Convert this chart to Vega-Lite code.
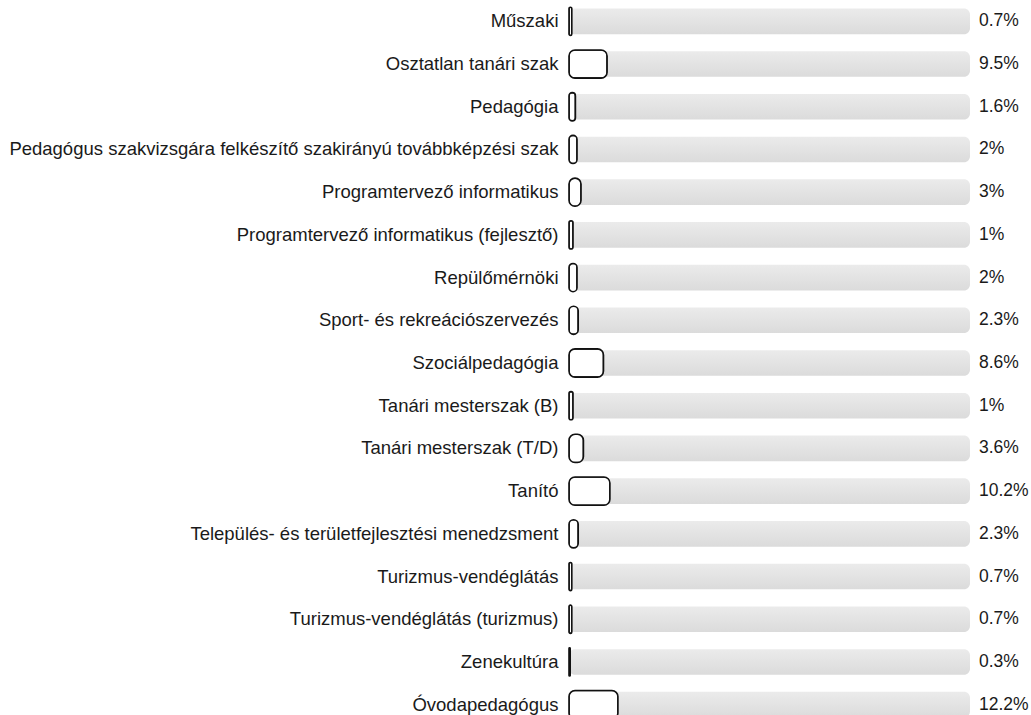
{
  "$schema": "https://vega.github.io/schema/vega-lite/v6.json",
  "width": 401,
  "height": 715,
  "autosize": {"type": "none"},
  "padding": {"left": 569, "top": 0, "right": 61, "bottom": 0},
  "background": "white",
  "config": {"view": {"stroke": null}, "font": "Liberation Sans"},
  "data": {
    "values": [
      {"szak": "Műszaki", "arany": 0.007},
      {"szak": "Osztatlan tanári szak", "arany": 0.095},
      {"szak": "Pedagógia", "arany": 0.016},
      {"szak": "Pedagógus szakvizsgára felkészítő szakirányú továbbképzési szak", "arany": 0.02},
      {"szak": "Programtervező informatikus", "arany": 0.03},
      {"szak": "Programtervező informatikus (fejlesztő)", "arany": 0.01},
      {"szak": "Repülőmérnöki", "arany": 0.02},
      {"szak": "Sport- és rekreációszervezés", "arany": 0.023},
      {"szak": "Szociálpedagógia", "arany": 0.086},
      {"szak": "Tanári mesterszak (B)", "arany": 0.01},
      {"szak": "Tanári mesterszak (T/D)", "arany": 0.036},
      {"szak": "Tanító", "arany": 0.102},
      {"szak": "Település- és területfejlesztési menedzsment", "arany": 0.023},
      {"szak": "Turizmus-vendéglátás", "arany": 0.007},
      {"szak": "Turizmus-vendéglátás (turizmus)", "arany": 0.007},
      {"szak": "Zenekultúra", "arany": 0.003},
      {"szak": "Óvodapedagógus", "arany": 0.122}
    ]
  },
  "encoding": {
    "y": {
      "field": "szak",
      "type": "nominal",
      "sort": null,
      "scale": {"paddingInner": 0, "paddingOuter": 0, "range": [0, 726]},
      "axis": {
        "title": null,
        "domain": false,
        "ticks": false,
        "labelFontSize": 18.5,
        "labelColor": "#1a1a1a",
        "labelPadding": 11,
        "labelLimit": 0,
        "labelFont": "Liberation Sans"
      }
    }
  },
  "layer": [
    {
      "mark": {
        "type": "bar",
        "height": {"band": 0.6},
        "cornerRadius": 6,
        "fill": {
          "gradient": "linear",
          "x1": 0, "y1": 0, "x2": 0, "y2": 1,
          "stops": [
            {"offset": 0, "color": "#ebebeb"},
            {"offset": 1, "color": "#dbdbdb"}
          ]
        }
      },
      "encoding": {
        "x": {"datum": 0, "type": "quantitative", "scale": {"domain": [0, 1]}, "axis": null},
        "x2": {"datum": 1}
      }
    },
    {
      "mark": {
        "type": "bar",
        "height": {"band": 0.66},
        "cornerRadius": 6,
        "fill": "white",
        "stroke": "#111111",
        "strokeWidth": 1.6
      },
      "encoding": {
        "x": {"field": "arany", "type": "quantitative", "scale": {"domain": [0, 1]}, "axis": null}
      }
    },
    {
      "mark": {
        "type": "text",
        "align": "left",
        "baseline": "middle",
        "dx": 9,
        "fontSize": 17.5,
        "font": "Liberation Sans",
        "color": "#1a1a1a"
      },
      "encoding": {
        "x": {"datum": 1, "type": "quantitative"},
        "text": {"field": "arany", "type": "quantitative", "format": ".1~%"}
      }
    }
  ]
}
